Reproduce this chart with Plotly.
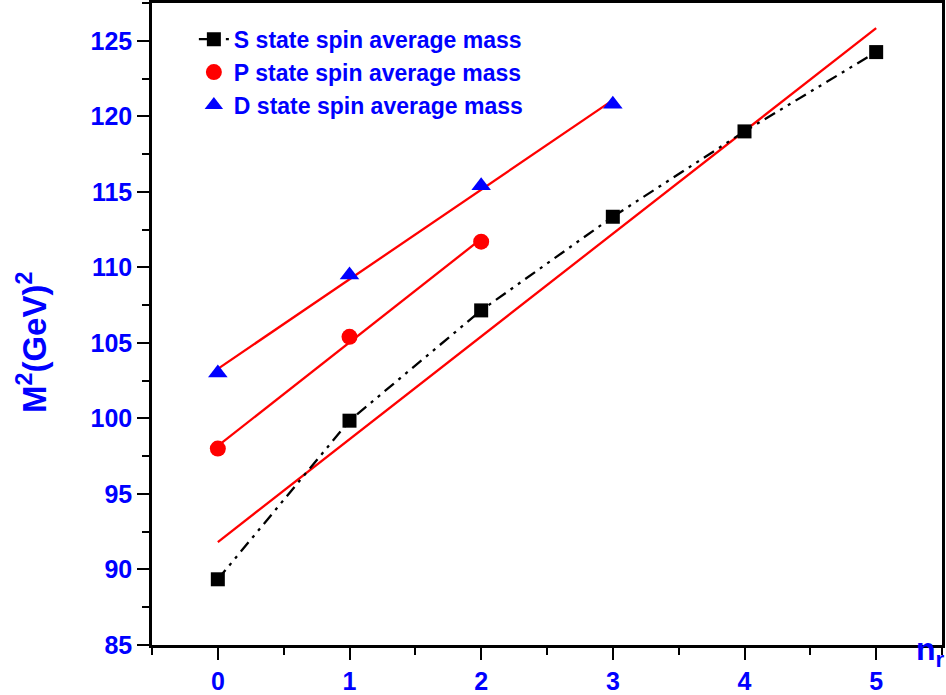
import numpy as np
import plotly.graph_objects as go

n_s = [0, 1, 2, 3, 4, 5]
m2_s = [89.35, 99.85, 107.15, 113.35, 119.0, 124.25]
n_p = [0, 1, 2]
m2_p = [98.0, 105.4, 111.7]
n_d = [0, 1, 2, 3]
m2_d = [103.0, 109.5, 115.4, 120.8]

blue = "#0000FF"
font_family = "Liberation Sans, Arial, sans-serif"

fig = go.Figure()

def fit_line(xs, ys):
    k, b = np.polyfit(xs, ys, 1)
    xx = np.array([min(xs), max(xs)], dtype=float)
    return xx, k * xx + b

for xs, ys in [(n_s, m2_s), (n_p, m2_p), (n_d, m2_d)]:
    fx, fy = fit_line(xs, ys)
    fig.add_trace(go.Scatter(x=fx, y=fy, mode="lines", line=dict(color="#FF0000", width=2.3),
                             showlegend=False, hoverinfo="skip"))

fig.add_trace(go.Scatter(x=n_s, y=m2_s, mode="lines+markers", name="S state spin average mass",
                         line=dict(color="black", width=2.3, dash="12px,6px,3px,6px,3px,6px"),
                         marker=dict(symbol="square", size=14, color="black")))
fig.add_trace(go.Scatter(x=n_p, y=m2_p, mode="markers", name="P state spin average mass",
                         marker=dict(symbol="circle", size=16, color="#FF0000")))
fig.add_trace(go.Scatter(x=n_d, y=m2_d, mode="markers", name="D state spin average mass",
                         marker=dict(symbol="triangle-up", size=17, color=blue)))

axis_common = dict(ticks="outside", ticklen=12, tickwidth=2, tickcolor="black", showline=True,
                   linecolor="black", linewidth=2.5, mirror=True, showgrid=False, zeroline=False,
                   automargin=False,
                   tickfont=dict(size=25, color=blue, family=font_family, weight="bold"))

fig.update_layout(
    width=946, height=695,
    margin=dict(l=152, r=4, t=3, b=50),
    plot_bgcolor="white", paper_bgcolor="white",
    font=dict(family=font_family, color=blue),
    legend=dict(x=0.053, y=0.977, xanchor="left", yanchor="top",
                bgcolor="rgba(0,0,0,0)",
                font=dict(size=23, color=blue, family=font_family, weight="bold")),
    xaxis=dict(range=[-0.5, 5.5], tickvals=[0, 1, 2, 3, 4, 5],
               minor=dict(tickvals=[-0.5, 0.5, 1.5, 2.5, 3.5, 4.5, 5.5], ticks="outside", ticklen=7,
                          tickwidth=2, tickcolor="black"), **axis_common),
    yaxis=dict(range=[85, 127.5], tickvals=[85, 90, 95, 100, 105, 110, 115, 120, 125],
               minor=dict(tickvals=[87.5, 92.5, 97.5, 102.5, 107.5, 112.5, 117.5, 122.5, 127.5],
                          ticks="outside", ticklen=7, tickwidth=2, tickcolor="black"), **axis_common),
)

fig.add_annotation(text="M<sup>2</sup>(GeV)<sup>2</sup>", xref="paper", yref="paper",
                   x=-0.152, y=0.472, xanchor="center", yanchor="middle", textangle=-90,
                   showarrow=False,
                   font=dict(size=33, color=blue, family=font_family, weight="bold"))

fig.add_annotation(text="n<sub>r</sub>", xref="paper", yref="paper", x=0.986, y=0.025,
                   xanchor="center", yanchor="top", showarrow=False,
                   font=dict(size=32, color=blue, family=font_family, weight="bold"))

fig.write_html("out.html", config={"displayModeBar": False},
               post_script="document.body.style.margin='0px';document.body.style.overflow='hidden';")
